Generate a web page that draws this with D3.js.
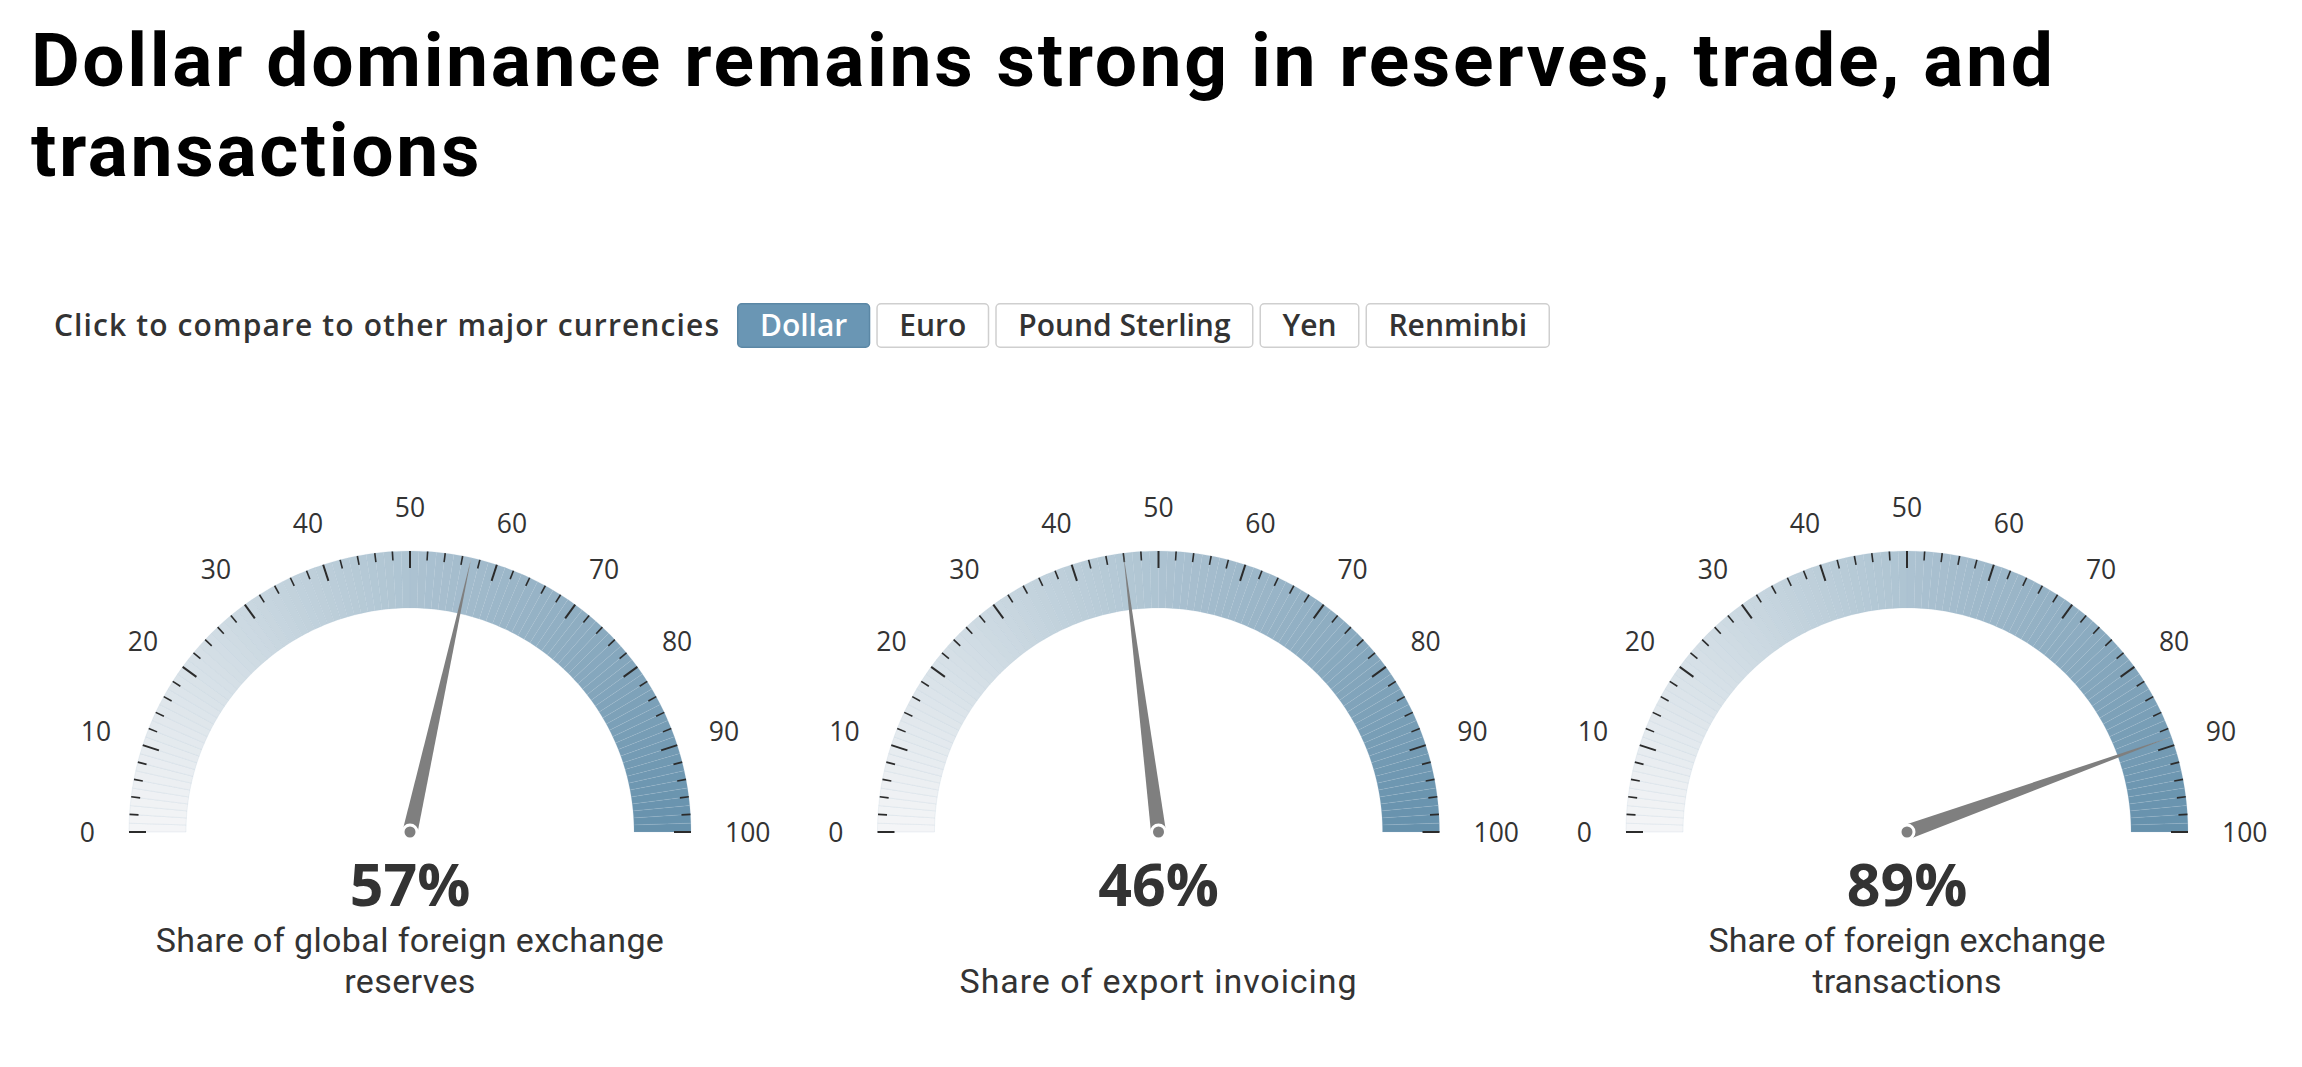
<!DOCTYPE html>
<html><head><meta charset="utf-8">
<script src="https://cdn.jsdelivr.net/npm/d3@7"></script>
<style>html,body{margin:0;padding:0;background:#fff;} svg{display:block;font-family:"Open Sans",Lato,sans-serif;}</style>
</head><body>
<svg id="chart" width="2302" height="1067"></svg>
<script>
// ---- data ----
const titleLines = ["Dollar dominance remains strong in reserves, trade, and", "transactions"];
const promptText = "Click to compare to other major currencies";
const currencies = ["Dollar", "Euro", "Pound Sterling", "Yen", "Renminbi"];
const selectedCurrency = "Dollar";
const gaugeValues = [57, 46, 89];
const gaugeLabels = [
  ["Share of global foreign exchange", "reserves"],
  ["Share of export invoicing"],
  ["Share of foreign exchange", "transactions"]
];
const tickLabels = [0, 10, 20, 30, 40, 50, 60, 70, 80, 90, 100];
const tickValues = d3.range(0, 101, 2);

// ---- layout ----
const svg = d3.select("#chart");

function fitWidth(sel, target, str) {
  const w = sel.node().getComputedTextLength();
  sel.attr("letter-spacing", (target - w) / (str.length - 1));
}

// title (one text element, two lines)
const title = svg.append("text").attr("x", 31).attr("y", 86)
  .attr("font-family", "Roboto, 'Open Sans', sans-serif")
  .attr("font-size", 75).attr("font-weight", 700).attr("fill", "#000");
const tspans = titleLines.map((t, i) => title.append("tspan").attr("x", 31).attr("y", 86 + i * 90).text(t));
(function () {
  const w = tspans[0].node().getComputedTextLength();
  title.attr("letter-spacing", (2022 - w) / (titleLines[0].length - 1));
})();

// prompt + buttons
const prompt = svg.append("text").attr("x", 54).attr("y", 336)
  .attr("font-size", 30).attr("font-weight", 600).attr("fill", "#333").text(promptText);
fitWidth(prompt, 665, promptText);

const btnG = svg.append("g");
const btnFont = 30;
const btnTexts = currencies.map(c => {
  const t = btnG.append("text").attr("font-size", btnFont).attr("font-weight", 600).text(c);
  const w = t.node().getComputedTextLength();
  t.remove();
  return w;
});
const bx0 = 737, bx1 = 1550, gap = 6;
const pad = (bx1 - bx0 - gap * (currencies.length - 1) - d3.sum(btnTexts)) / (2 * currencies.length);
let bx = bx0;
currencies.forEach((c, i) => {
  const bw = btnTexts[i] + 2 * pad;
  const sel = c === selectedCurrency;
  btnG.append("rect").attr("x", bx + 0.75).attr("y", 303.75).attr("width", bw - 1.5).attr("height", 43.5)
    .attr("rx", 4).attr("fill", sel ? "#6a96b4" : "#fff")
    .attr("stroke", sel ? "#5b87a5" : "#cfcfcf").attr("stroke-width", 1.5);
  btnG.append("text").attr("x", bx + bw / 2).attr("y", 336).attr("text-anchor", "middle")
    .attr("font-size", btnFont).attr("font-weight", 600).attr("fill", sel ? "#fff" : "#333").text(c);
  bx += bw + gap;
});

// gauges
const cx = d3.scalePoint().domain(d3.range(gaugeValues.length)).range([410, 1907]);
const cy = 832;
const rOuter = 281, rInner = 224, rLabel = 315;
const angle = d3.scaleLinear().domain([0, 100]).range([-Math.PI / 2, Math.PI / 2]);
const color = d3.scaleLinear().domain([0, 100]).range(["#f5f6f7", "#6590ac"]).interpolate(d3.interpolateRgb);
const slice = d3.arc().innerRadius(rInner).outerRadius(rOuter)
  .startAngle(d => angle(d)).endAngle(d => angle(d + 1));
const px = (a, r) => r * Math.sin(a);
const py = (a, r) => -r * Math.cos(a);

gaugeValues.forEach((v, gi) => {
  const g = svg.append("g").attr("transform", `translate(${cx(gi)},${cy})`);
  // band slices
  g.append("g").selectAll("path").data(d3.range(0, 100)).join("path")
    .attr("d", slice).attr("fill", d => color(d + 0.5))
    .attr("stroke", "#a7bfce").attr("stroke-opacity", 0.25).attr("stroke-width", 0.7);
  // ticks
  g.append("g").selectAll("line").data(tickValues).join("line")
    .attr("x1", d => px(angle(d), rOuter)).attr("y1", d => py(angle(d), rOuter))
    .attr("x2", d => px(angle(d), rOuter - (d % 10 === 0 ? 17 : 9)))
    .attr("y2", d => py(angle(d), rOuter - (d % 10 === 0 ? 17 : 9)))
    .attr("stroke", "#2b2b2b").attr("stroke-width", d => d % 10 === 0 ? 2 : 1.6);
  // tick labels
  const capH = 19;
  g.append("g").selectAll("text").data(tickLabels).join("text")
    .attr("font-size", 26.5).attr("fill", "#333").attr("text-anchor", "middle")
    .text(d => d)
    .each(function (d) {
      const a = angle(d);
      const w = this.getComputedTextLength();
      const x = px(a, rLabel) + Math.sin(a) * w / 2;
      const yc = py(a, rLabel) - Math.cos(a) * capH / 2;
      d3.select(this).attr("x", x).attr("y", yc + capH / 2);
    });
  // needle
  const a = angle(v), hw = 7.5;
  const tip = [px(a, rOuter), py(a, rOuter)];
  const l = [px(a - Math.PI / 2, hw), py(a - Math.PI / 2, hw)];
  const r = [px(a + Math.PI / 2, hw), py(a + Math.PI / 2, hw)];
  g.append("path").attr("d", d3.line()([l, tip, r]) + "Z").attr("fill", "#7f7f7f");
  g.append("circle").attr("r", 7).attr("fill", "#7f7f7f").attr("stroke", "#fff").attr("stroke-width", 3);
  // value
  g.append("text").attr("y", 906 - cy).attr("text-anchor", "middle")
    .attr("font-size", 59).attr("font-weight", 700).attr("fill", "#333").text(v + "%");
  // description (one text element, lines as tspans)
  const lines = gaugeLabels[gi];
  const desc = g.append("text").attr("text-anchor", "middle")
    .attr("font-family", "Roboto, 'Open Sans', sans-serif")
    .attr("font-size", 34).attr("fill", "#333");
  lines.forEach((t, li) => {
    desc.append("tspan").attr("x", 0).attr("y", 993 - cy - (lines.length - 1 - li) * 41).text(t);
  });
  // widen Roboto slightly to the reference's text width
  const w0 = desc.select("tspan").node().getComputedTextLength();
  const target = 397 * lines[0].length / "Share of export invoicing".length;
  desc.attr("letter-spacing", Math.max(0, Math.min(1.8, (target - w0) / (lines[0].length - 1))));
});
</script>
</body></html>
